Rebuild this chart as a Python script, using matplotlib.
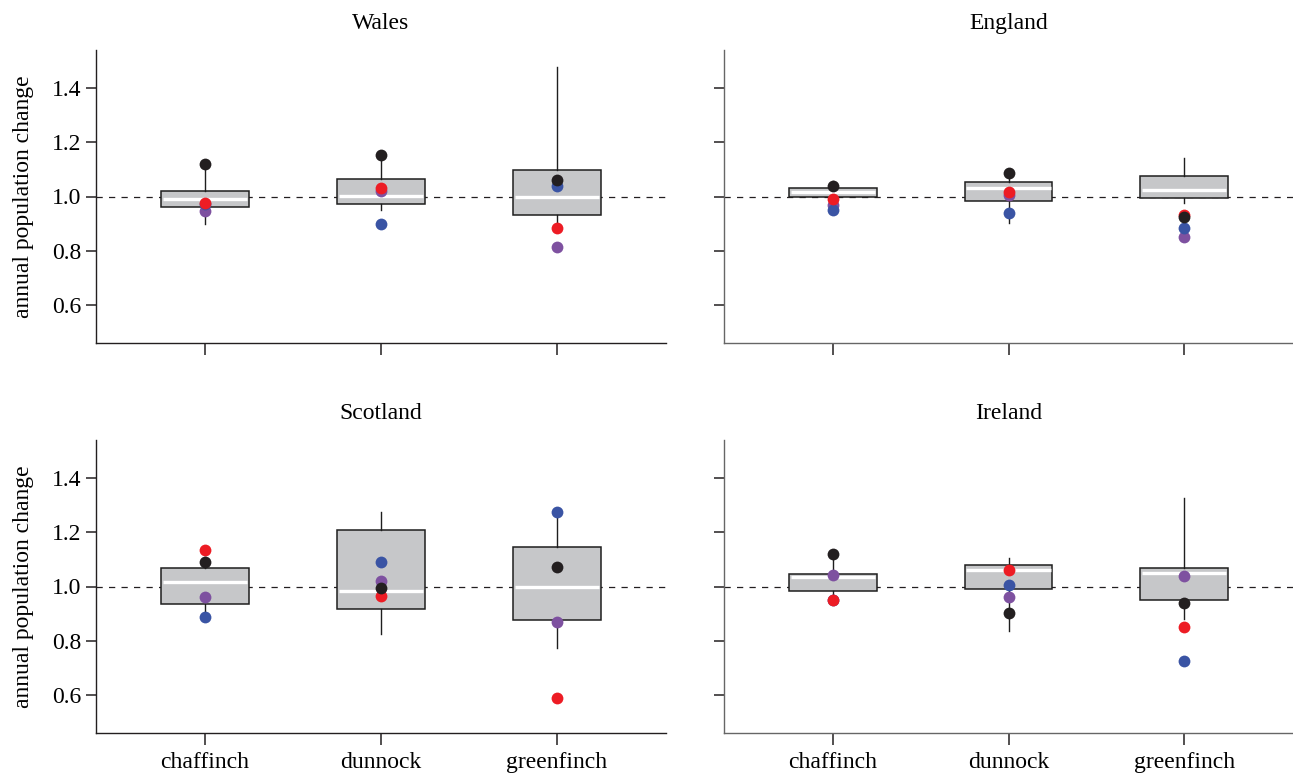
import matplotlib
matplotlib.use("Agg")
import matplotlib.pyplot as plt

plt.rcParams["font.family"] = ["Liberation Serif", "DejaVu Serif"]

SPECIES = ["chaffinch", "dunnock", "greenfinch"]
REGIONS = ["Wales", "England", "Scotland", "Ireland"]

# box summaries: one row per region, one column per species
Q1 = [
    [0.961, 0.971, 0.931],
    [1.000, 0.984, 0.996],
    [0.934, 0.916, 0.875],
    [0.983, 0.990, 0.951],
]
MEDIAN = [
    [0.990, 1.001, 1.000],
    [1.016, 1.032, 1.024],
    [1.018, 0.985, 0.998],
    [1.034, 1.059, 1.050],
]
Q3 = [
    [1.022, 1.064, 1.097],
    [1.032, 1.053, 1.075],
    [1.068, 1.210, 1.144],
    [1.045, 1.078, 1.068],
]
WHISK_LO = [
    [0.897, 0.950, 0.890],
    [0.960, 0.903, 0.977],
    [0.887, 0.826, 0.775],
    [0.949, 0.835, 0.881],
]
WHISK_HI = [
    [1.120, 1.165, 1.476],
    [1.056, 1.090, 1.142],
    [1.108, 1.275, 1.273],
    [1.121, 1.105, 1.328],
]

# individual estimates drawn as coloured points
PTS_PURPLE = [
    [0.945, 1.020, 0.814],
    [0.967, 1.005, 0.852],
    [0.963, 1.022, 0.870],
    [1.042, 0.963, 1.039],
]
PTS_BLUE = [
    [0.972, 0.900, 1.037],
    [0.949, 0.941, 0.883],
    [0.887, 1.092, 1.273],
    [0.949, 1.006, 0.724],
]
PTS_RED = [
    [0.977, 1.032, 0.885],
    [0.990, 1.016, 0.931],
    [1.135, 0.965, 0.589],
    [0.952, 1.060, 0.852],
]
PTS_BLACK = [
    [1.120, 1.154, 1.060],
    [1.037, 1.087, 0.924],
    [1.091, 0.993, 1.072],
    [1.121, 0.901, 0.939],
]

POINT_SERIES = [
    (PTS_PURPLE, "#7e51a0"),
    (PTS_BLUE, "#3a54a4"),
    (PTS_RED, "#ed1c24"),
    (PTS_BLACK, "#231f20"),
]

YTICKS = [0.6, 0.8, 1.0, 1.2, 1.4]
BOX_W = 0.5

W, H = 1293, 776
fig = plt.figure(figsize=(W / 100, H / 100), dpi=100)

# panel rectangles in pixels: left, top spine, width, bottom spine
panel_px = [(96, 50, 570, 343), (724, 50, 569, 343),
            (96, 440, 570, 733), (724, 440, 569, 733)]

pos = list(range(len(SPECIES)))
for r, region in enumerate(REGIONS):
    x0, top, w, bottom = panel_px[r]
    ax = fig.add_axes([x0 / W, (H - bottom) / H, w / W, (bottom - top) / H])
    is_left = r % 2 == 0
    is_bottom = r >= 2

    ax.axhline(1.0, color="#231f20", lw=0.9, linestyle=(0, (5, 5)), zorder=1)

    stats = [dict(q1=Q1[r][i], med=MEDIAN[r][i], q3=Q3[r][i],
                  whislo=WHISK_LO[r][i], whishi=WHISK_HI[r][i], fliers=[])
             for i in pos]
    ax.bxp(stats, positions=pos, widths=BOX_W, patch_artist=True,
           showcaps=False, showfliers=False, manage_ticks=False,
           boxprops=dict(facecolor="#c6c7c9", edgecolor="#1e1e1e", linewidth=1.1),
           whiskerprops=dict(color="#1e1e1e", linewidth=1.0),
           medianprops=dict(linewidth=0),
           zorder=2)
    # white median bar, kept inside the box outline
    ax.hlines(MEDIAN[r], [p - BOX_W / 2 + 0.01 for p in pos],
              [p + BOX_W / 2 - 0.01 for p in pos],
              color="white", lw=2.4, zorder=3)

    for values, colour in POINT_SERIES:
        ax.plot(pos, values[r], "o", color=colour, ms=8.5, mec="none",
                linestyle="none", zorder=4)

    ax.set_xlim(-0.62, 2.62)
    ax.set_ylim(0.46, 1.54)
    ax.set_xticks(pos)
    ax.set_yticks(YTICKS)
    ax.set_yticklabels([f"{v:.1f}" for v in YTICKS])
    if not is_bottom:
        ax.set_xticklabels([])
    else:
        ax.set_xticklabels(SPECIES)
    if not is_left:
        ax.set_yticklabels([])
    else:
        ax.set_ylabel("annual population change", fontsize=17, labelpad=13)

    ax.tick_params(axis="both", labelsize=17, color="#231f20", width=1.1)
    ax.tick_params(axis="y", length=7.5, pad=3)
    ax.tick_params(axis="x", length=8.5, pad=5)

    for side in ("top", "right"):
        ax.spines[side].set_visible(False)
    spine_col = "#231f20" if is_left else "#666666"
    for side in ("left", "bottom"):
        ax.spines[side].set_color(spine_col)
        ax.spines[side].set_linewidth(1.0)

    ax.set_title(region, fontsize=17, pad=15)

fig.savefig("out.png", dpi=100)
